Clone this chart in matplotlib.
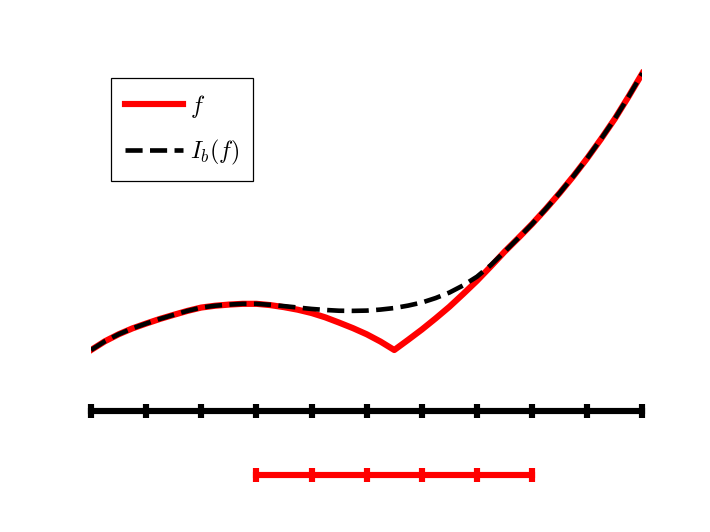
import matplotlib
matplotlib.use("Agg")
import matplotlib.pyplot as plt
import numpy as np

plt.rcParams['mathtext.fontset'] = 'cm'

# sample points
x = [-1.0, -0.95, -0.9, -0.85, -0.8, -0.75, -0.7, -0.65, -0.6, -0.55, -0.5,
     -0.45, -0.4, -0.35, -0.3, -0.25, -0.2, -0.15, -0.1, -0.05, 0.0,
     0.05, 0.1, 0.15, 0.2, 0.25, 0.3, 0.35, 0.4, 0.45, 0.5,
     0.55, 0.6, 0.65, 0.7, 0.75, 0.8, 0.85, 0.9, 0.95, 1.0]
f = [0.477, 0.545, 0.600, 0.646, 0.684, 0.720, 0.752, 0.783, 0.809, 0.823, 0.832,
     0.838, 0.838, 0.828, 0.812, 0.792, 0.766, 0.732, 0.691, 0.648, 0.600,
     0.543, 0.477, 0.556, 0.637, 0.724, 0.815, 0.915, 1.018, 1.130, 1.245,
     1.352, 1.462, 1.580, 1.704, 1.836, 1.976, 2.126, 2.284, 2.458, 2.640]
interp = [0.477, 0.545, 0.600, 0.646, 0.684, 0.720, 0.752, 0.783, 0.809, 0.823, 0.832,
          0.838, 0.838, 0.830, 0.820, 0.809, 0.798, 0.790, 0.784, 0.783, 0.785,
          0.793, 0.805, 0.824, 0.848, 0.883, 0.926, 0.982, 1.050, 1.140, 1.245,
          1.352, 1.462, 1.580, 1.704, 1.836, 1.976, 2.126, 2.284, 2.458, 2.640]

grid_nodes = [-1.0, -0.8, -0.6, -0.4, -0.2, 0.0, 0.2, 0.4, 0.6, 0.8, 1.0]
patch_nodes = [-0.4, -0.2, 0.0, 0.2, 0.4, 0.6]
grid_level = 0.0
patch_level = -0.5

fig = plt.figure(figsize=(6.4, 4.8), dpi=111)
ax = fig.add_axes([91/710, 1 - 488.8/533, 551/710, (486.8 - 51.6)/533])

ax.plot(x, f, color='red', lw=4, label='$f$', zorder=2)
ax.plot(x, interp, 'k--', lw=3, label='$I_b(f)$', zorder=3)

ax.plot(grid_nodes, [grid_level]*len(grid_nodes), color='black', lw=4,
        marker='|', ms=9, mew=4, clip_on=False)
ax.plot(patch_nodes, [patch_level]*len(patch_nodes), color='red', lw=4,
        marker='|', ms=9, mew=4, clip_on=False)

ax.set_xlim(-1, 1)
ax.set_ylim(-0.6, 2.8)
ax.axis('off')

leg = ax.legend(loc='upper left', bbox_to_anchor=(111/710, 1 - 79/533),
                bbox_transform=fig.transFigure, borderaxespad=0,
                fontsize=15.5, handlelength=2.4, handletextpad=0.3,
                fancybox=False, edgecolor='black', framealpha=1,
                labelspacing=0.75, borderpad=0.6)
leg.get_frame().set_linewidth(0.8)

plt.savefig('out.png', dpi=111)
